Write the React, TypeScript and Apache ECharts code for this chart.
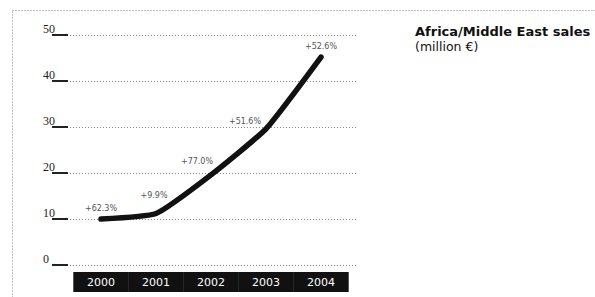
import React, { useEffect, useRef } from "react";
import * as echarts from "echarts";

const years = ["2000", "2001", "2002", "2003", "2004"];
const sales = [10.0, 11.2, 19.6, 29.6, 45.2];
const growthLabels = ["+62.3%", "+9.9%", "+77.0%", "+51.6%", "+52.6%"];
const labelOffsets = [[0, -6], [-2, -13], [-14, -9], [-21, -3], [0, -6]];
const yTicks = { min: 0, max: 50, interval: 10 };

export default function App() {
  const ref = useRef<HTMLDivElement>(null);
  useEffect(() => {
    const chart = echarts.init(ref.current!, null, { renderer: "svg" });
    chart.setOption({
      animation: false,
      backgroundColor: "#fff",
      title: {
        text: "Africa/Middle East sales",
        subtext: "(million €)",
        left: 415,
        top: 25,
        padding: 0,
        itemGap: 2,
        textStyle: { fontFamily: "DejaVu Sans", fontSize: 13, fontWeight: "bold", color: "#111", lineHeight: 13 },
        subtextStyle: { fontFamily: "DejaVu Sans", fontSize: 12.5, color: "#111", lineHeight: 13 },
      },
      graphic: [
        {
          type: "rect",
          shape: { x: 12.5, y: 10.5, width: 620, height: 320 },
          style: { fill: "none", stroke: "#888", lineWidth: 1, lineDash: [1, 2] },
          silent: true,
        },
      ],
      grid: [
        { left: 52, right: 237, top: 35, bottom: 32 },
        { left: 73.5, right: 246.5, top: 35, bottom: 32 },
      ],
      xAxis: [
        { type: "category", gridIndex: 0, data: years, show: false },
        {
          type: "category",
          gridIndex: 1,
          data: years,
          boundaryGap: true,
          axisLine: { show: false, onZero: false },
          axisTick: { show: false },
          axisLabel: {
            margin: 7,
            interval: 0,
            color: "#fff",
            backgroundColor: "#111",
            width: 55.4,
            height: 20,
            lineHeight: 20,
            align: "center",
            verticalAlign: "top",
            fontFamily: "DejaVu Sans",
            fontSize: 11,
          },
        },
      ],
      yAxis: [
        {
          type: "value",
          gridIndex: 0,
          ...yTicks,
          axisLine: { show: false },
          axisTick: { show: true, inside: true, length: 16, lineStyle: { color: "#222", width: 2 } },
          axisLabel: {
            align: "left",
            margin: 9,
            verticalAlign: "bottom",
            color: "#222",
            fontFamily: "Liberation Serif",
            fontSize: 12,
          },
          splitLine: { show: true, lineStyle: { color: "#888", width: 1, type: [1, 2] } },
        },
        { type: "value", gridIndex: 1, ...yTicks, show: false, splitLine: { show: false } },
      ],
      series: [
        {
          type: "line",
          xAxisIndex: 1,
          yAxisIndex: 1,
          smooth: 0.15,
          symbol: "circle",
          symbolSize: 1,
          showSymbol: true,
          itemStyle: { color: "rgba(0,0,0,0)", borderWidth: 0 },
          lineStyle: { color: "#111", width: 5.5, cap: "round", join: "round" },
          label: {
            show: true,
            position: "top",
            distance: 0,
            fontFamily: "DejaVu Sans",
            fontSize: 8,
            color: "#555",
            formatter: (p: any) => growthLabels[p.dataIndex],
          },
          data: sales.map((v, i) => ({
            value: v,
            label: { offset: labelOffsets[i] },
          })),
        },
      ],
    });
    return () => chart.dispose();
  }, []);
  return (
    <div
      ref={ref}
      style={{ position: "fixed", left: 0, top: 0, width: 595, height: 297 }}
    />
  );
}
